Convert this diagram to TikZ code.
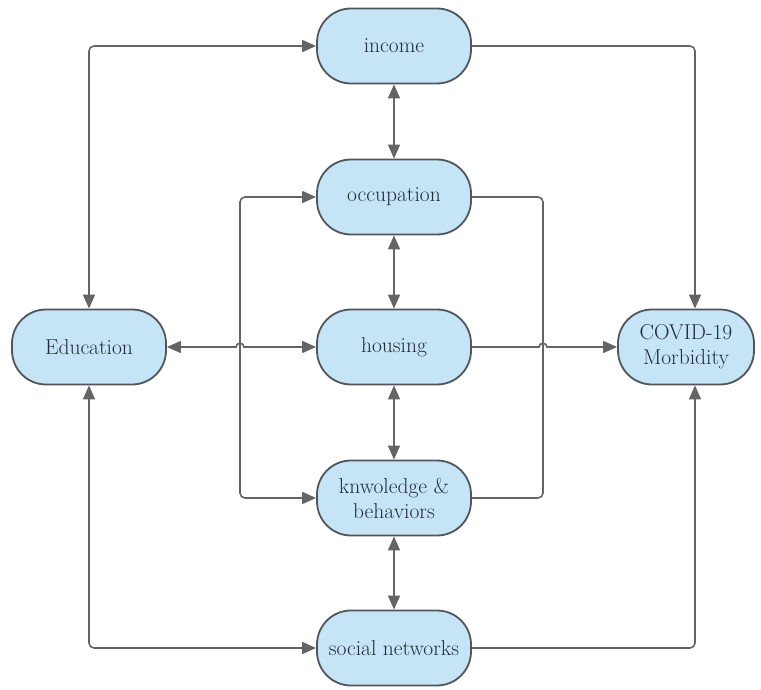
\documentclass[tikz,border=0pt]{standalone}
\usetikzlibrary{arrows.meta}
\definecolor{nodefill}{RGB}{197,228,245}
\definecolor{nodeline}{RGB}{80,86,92}
\definecolor{edgecol}{RGB}{100,100,100}
\definecolor{txt}{RGB}{35,45,55}
\begin{document}
\begin{tikzpicture}[x=1pt,y=-1pt,
  box/.style={draw=nodeline,line width=1.8pt,fill=nodefill,rounded corners=34pt,
    minimum width=154pt,minimum height=75pt,text=txt,
    font=\fontsize{21.5}{25}\selectfont,align=center,inner sep=0pt},
  conn/.style={draw=edgecol,line width=1.6pt,rounded corners=5pt},
  tipend/.style={-{Triangle[length=14pt,width=12pt]}},
  tipboth/.style={{Triangle[length=14pt,width=12pt]}-{Triangle[length=14pt,width=12pt]}}]
\useasboundingbox (0,0) rectangle (761,690);
\node[box] (inc) at (394,46) {income};
\node[box] (occ) at (394,197) {occupation};
\node[box] (hou) at (394,347) {housing};
\node[box] (kno) at (394,498) {knwoledge \&\\behaviors};
\node[box] (soc) at (394,648) {social networks};
\node[box] (edu) at (89,347) {Education};
\node[box,minimum width=136pt] (cov) at (686,347) {COVID-19\\Morbidity};
\coordinate (c1) at (89,46);
\coordinate (c2) at (695,46);
\coordinate (c3) at (89,648);
\coordinate (c4) at (695,648);
% education - income
\draw[conn,tipboth] (edu.north) -- (c1) -- (inc.west);
% income - covid
\draw[conn,tipend] (inc.east) -- (c2) -- (cov.north -| c2);
% education - social networks
\draw[conn,tipboth] (edu.south) -- (c3) -- (soc.west);
% social networks - covid
\draw[conn,tipend] (soc.east) -- (c4) -- (cov.south -| c4);
% vertical chain
\draw[conn,tipboth] (inc.south) -- (occ.north);
\draw[conn,tipboth] (occ.south) -- (hou.north);
\draw[conn,tipboth] (hou.south) -- (kno.north);
\draw[conn,tipboth] (kno.south) -- (soc.north);
% left bracket
\draw[conn,tipboth] (occ.west) -- (240,197) -- (240,498) -- (kno.west);
% right bracket
\draw[conn] (occ.east) -- (543,197) -- (543,498) -- (kno.east);
% education - housing with jump
\draw[conn,tipboth,rounded corners=0pt] (edu.east) -- (236,347) .. controls (236,342) and (244,342) .. (244,347) -- (hou.west);
% housing - covid with jump
\draw[conn,tipend,rounded corners=0pt] (hou.east) -- (539,347) .. controls (539,342) and (547,342) .. (547,347) -- (cov.west);
\end{tikzpicture}
\end{document}
